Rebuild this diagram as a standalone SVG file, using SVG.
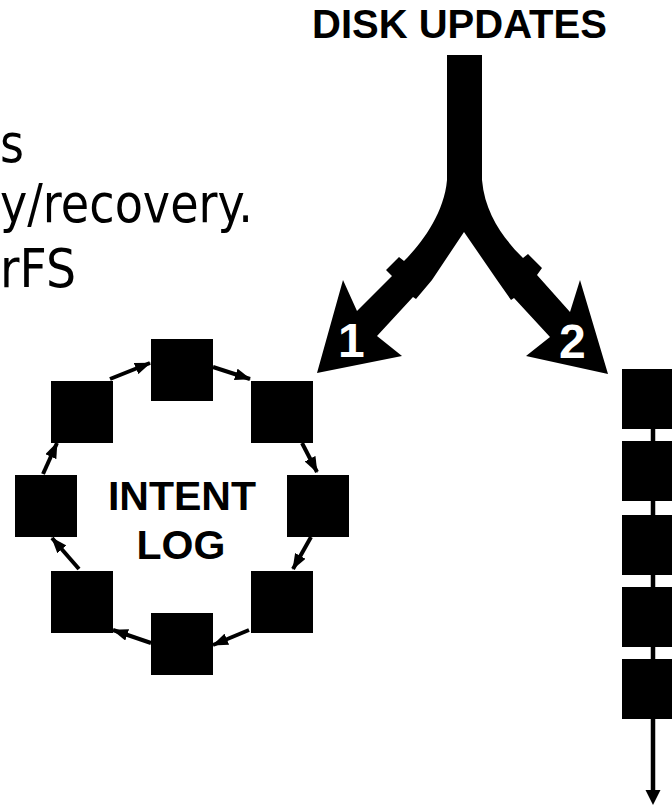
<svg xmlns="http://www.w3.org/2000/svg" width="672" height="806" viewBox="0 0 672 806">
<style>
.body{font-family:"DejaVu Sans","Liberation Sans",sans-serif;font-size:53px;fill:#000}
.bold{font-family:"Liberation Sans",Arial,sans-serif;font-weight:bold;fill:#000}
.sq{fill:#000}
.conn{stroke:#000;stroke-width:4;fill:none}
</style>
<defs>
<marker id="ah" markerUnits="userSpaceOnUse" markerWidth="16" markerHeight="12" refX="15" refY="6" orient="auto">
<path d="M0,0 L16,6 L0,12 z" fill="#000"/>
</marker>
</defs>
<rect width="672" height="806" fill="#fff"/>
<g id="text-lines">
<text class="body" x="0" y="162" textLength="24" lengthAdjust="spacingAndGlyphs">s</text>
<text class="body" x="0" y="222" textLength="253" lengthAdjust="spacingAndGlyphs">y/recovery.</text>
<text class="body" x="0" y="287" textLength="76" lengthAdjust="spacingAndGlyphs">rFS</text>
</g>
<g id="title">
<text class="bold" x="312" y="38" font-size="40">DISK UPDATES</text>
</g>
<g id="split-arrow">
<path fill="#000" d="M447,55 L482,55 L482,180 C485,215 505,240 523,258 L528,254 L542,268 L537,275 L570,312 L580,280 L608,374 L526,356 L550,337 L514,298 L511,300 L497,280 L464,232 L432,280 L416,299 L413,297 L377,336 L402,356 L317,373 L343,280 L357,311 L392,276 L386,270 L399,257 L404,261 C420,245 444,215 447,180 Z"/>
<text class="bold" x="338" y="357" font-size="48" style="fill:#fff">1</text>
<text class="bold" x="559" y="358" font-size="48" style="fill:#fff">2</text>
</g>
<g id="connectors">
<line class="conn" x1="110" y1="379" x2="150" y2="363" marker-end="url(#ah)"/>
<line class="conn" x1="213" y1="367" x2="250" y2="379" marker-end="url(#ah)"/>
<line class="conn" x1="302" y1="443" x2="317" y2="472" marker-end="url(#ah)"/>
<line class="conn" x1="311" y1="537" x2="293" y2="569" marker-end="url(#ah)"/>
<line class="conn" x1="249" y1="630" x2="213" y2="645" marker-end="url(#ah)"/>
<line class="conn" x1="151" y1="643" x2="113" y2="630" marker-end="url(#ah)"/>
<line class="conn" x1="79" y1="569" x2="52" y2="538" marker-end="url(#ah)"/>
<line class="conn" x1="43" y1="474" x2="57" y2="443" marker-end="url(#ah)"/>
<line x1="653" y1="400" x2="653" y2="791" stroke="#000" stroke-width="4.5"/>
<path d="M645.5,790 L660.5,790 L653,805 Z" fill="#000"/>
</g>
<g id="log-top"><rect class="sq" x="151" y="339" width="62" height="62"/></g>
<g id="log-top-right"><rect class="sq" x="251" y="381" width="62" height="62"/></g>
<g id="log-right"><rect class="sq" x="287" y="475" width="62" height="62"/></g>
<g id="log-bottom-right"><rect class="sq" x="251" y="571" width="62" height="62"/></g>
<g id="log-bottom"><rect class="sq" x="151" y="613" width="62" height="62"/></g>
<g id="log-bottom-left"><rect class="sq" x="51" y="571" width="62" height="62"/></g>
<g id="log-left"><rect class="sq" x="15" y="475" width="62" height="62"/></g>
<g id="log-top-left"><rect class="sq" x="51" y="381" width="62" height="62"/></g>
<g id="intent-log-label">
<text class="bold" x="182" y="510" font-size="41" text-anchor="middle">INTENT</text>
<text class="bold" x="181" y="559" font-size="41" text-anchor="middle">LOG</text>
</g>
<g id="block-1"><rect class="sq" x="622" y="369" width="62" height="60"/></g>
<g id="block-2"><rect class="sq" x="622" y="441" width="62" height="60"/></g>
<g id="block-3"><rect class="sq" x="622" y="515" width="62" height="60"/></g>
<g id="block-4"><rect class="sq" x="622" y="587" width="62" height="60"/></g>
<g id="block-5"><rect class="sq" x="622" y="659" width="62" height="60"/></g>
</svg>
